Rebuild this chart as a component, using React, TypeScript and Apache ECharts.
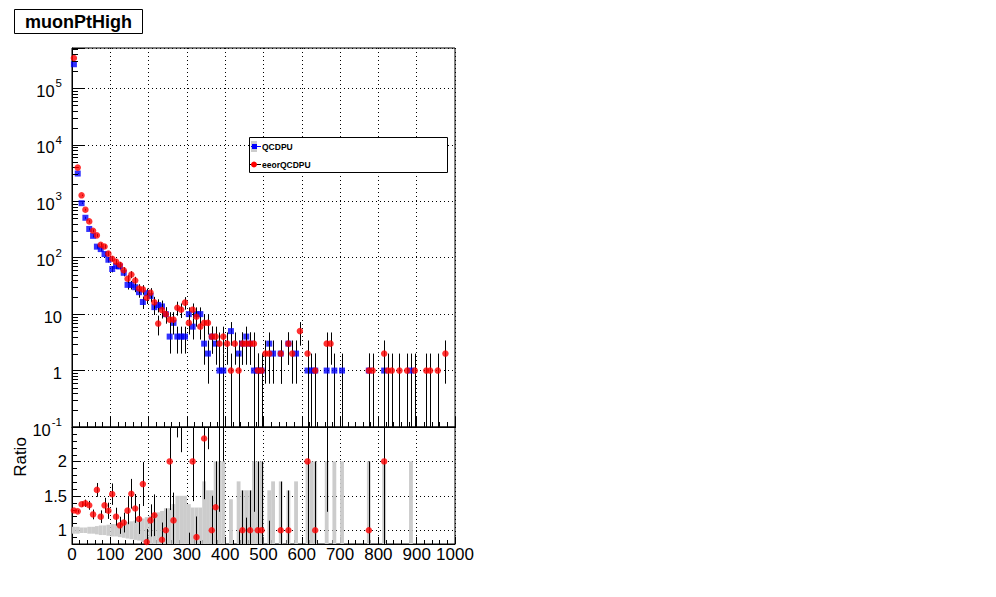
import React, { useEffect, useRef } from "react";
import * as echarts from "echarts";

// ---------------- data ----------------
const binCenters = [
  5, 15, 25, 35, 45, 55, 65, 75, 85, 95,
  105, 115, 125, 135, 145, 155, 165, 175, 185, 195,
  205, 215, 225, 235, 245, 255, 265, 275, 285, 295,
  305, 315, 325, 335, 345, 355, 365, 375, 385, 395,
  405, 415, 425, 435, 445, 455, 465, 475, 485, 495,
  505, 515, 525, 535, 545, 555, 565, 575, 585, 595,
  605, 615, 625, 635, 645, 655, 665, 675, 685, 695,
  705, 715, 725, 735, 745, 755, 765, 775, 785, 795,
  805, 815, 825, 835, 845, 855, 865, 875, 885, 895,
  905, 915, 925, 935, 945, 955, 965, 975, 985, 995,
];

const qcdpu = [
  268000, 3100, 925, 510, 323, 244, 157, 142, 116, 92,
  63, 71, 70, 54, 33, 33, 30, 24.5, 16.4, 23.5,
  21, 13.3, 14.5, 13.7, 10, 4, 7, 4, 4, 4,
  10, 6, 10, 10, 3, 2, 4, 3, 1, 1,
  0, 5, 0, 2, 3, 4, 3, 1, 1, 1,
  0, 3, 2, 0, 2, 0, 3, 0, 2, 0,
  0, 1, 1, 1, 0, 0, 1, 0, 1, 0,
  1, 0, 0, 0, 0, 0, 0, 1, 0, 0,
  0, 1, 0, 0, 0, 0, 0, 0, 1, 0,
  0, 0, 0, 0, 0, 0, 0, 0, 0, 0,
];

const eeorQcdpu = [
  345000, 3950, 1275, 710, 440, 300, 249, 170, 158, 118,
  96, 85, 75, 60, 42.4, 50.5, 39.5, 28.5, 27.4, 19.5,
  24, 16.2, 6.8, 11.8, 10, 8, 8, 13, 12, 16,
  7, 12, 9, 6, 7, 7, 4, 4, 3, 4,
  3, 1, 3, 1, 3, 3, 3, 3, 1, 1,
  2, 2, 0, 0, 2, 0, 3, 2, 0, 5,
  0, 2, 0, 1, 0, 0, 3, 3, 0, 0,
  0, 0, 0, 0, 0, 0, 0, 1, 1, 0,
  0, 2, 1, 1, 0, 1, 0, 1, 0, 1,
  0, 0, 1, 1, 0, 1, 0, 2, 0, 0,
];

// relative half-width of the grey MC uncertainty band in the ratio pad
const mcRelErr = [
  0.05, 0.05, 0.04, 0.04, 0.05, 0.05, 0.06, 0.07, 0.07, 0.08,
  0.09, 0.09, 0.1, 0.11, 0.12, 0.13, 0.14, 0.15, 0.17, 0.19,
  0.21, 0.24, 0.26, 0.28, 0.32, 0.32, 0.38, 0.5, 0.5, 0.5,
  0.38, 0.33, 0.33, 0.33, 0.71, 0.58, 0.58, 1, 1, 1,
  0, 0.45, 0, 0.71, 0.58, 0.58, 0.58, 1, 1, 1,
  0, 0.58, 0.71, 0, 0.71, 0, 0.58, 0, 0.71, 0,
  0, 1, 1, 1, 0, 0, 1, 0, 1, 0,
  1, 0, 0, 0, 0, 0, 0, 1, 0, 0,
  0, 1, 0, 0, 0, 0, 0, 0, 1, 0,
  0, 0, 0, 0, 0, 0, 0, 0, 0, 0,
];

const xTickLabels = ["0", "100", "200", "300", "400", "500", "600", "700", "800", "900", "1000"];
const ratioTickLabels = ["1", "1.5", "2"];
const logMinorTicks = [
  0.2, 0.3, 0.4, 0.5, 0.6, 0.7, 0.8, 0.9,
  2, 3, 4, 5, 6, 7, 8, 9,
  20, 30, 40, 50, 60, 70, 80, 90,
  200, 300, 400, 500, 600, 700, 800, 900,
  2000, 3000, 4000, 5000, 6000, 7000, 8000, 9000,
  20000, 30000, 40000, 50000, 60000, 70000, 80000, 90000,
  200000, 300000, 400000, 500000,
];
const ratioMinorTicks = [0.9, 1.1, 1.2, 1.3, 1.4, 1.6, 1.7, 1.8, 1.9, 2.1, 2.2, 2.3, 2.4];

const seriesNames = ["QCDPU", "eeorQCDPU"];
const titleText = "muonPtHigh";
const ratioTitle = "Ratio";

// ---------------- styling ----------------
const FONT = "'Liberation Sans', Arial, Helvetica, sans-serif";
const BIN_W = 10;
const Y_MIN = 0.1;
const Y_MAX = 520000;
const R_MIN = 0.8;
const R_MAX = 2.5;
const GRID_DOT = { color: "#000", type: [1, 3] as number[], width: 1 };

function vLine(color: string) {
  return (params: any, api: any) => {
    const x = api.value(0);
    const lo = api.value(1);
    const hi = api.value(2);
    const p1 = api.coord([x, hi]);
    const p2 = api.coord([x, lo]);
    const xx = Math.round(p1[0]) + 0.5;
    return {
      type: "line",
      shape: { x1: xx, y1: p1[1], x2: xx, y2: p2[1] },
      style: { stroke: color, lineWidth: 1 },
    };
  };
}

function tickLine(len: number) {
  return (params: any, api: any) => {
    const p = api.coord([api.value(0), api.value(1)]);
    const yy = Math.round(p[1]) + 0.5;
    return {
      type: "line",
      shape: { x1: p[0], y1: yy, x2: p[0] + len, y2: yy },
      style: { stroke: "#000", lineWidth: 1 },
    };
  };
}

function buildOption() {
  const blueErr: number[][] = [];
  const bluePts: number[][] = [];
  const redErr: number[][] = [];
  const redPts: number[][] = [];
  const band: number[][] = [];
  const ratioErr: number[][] = [];
  const ratioPts: number[][] = [];

  binCenters.forEach((x, i) => {
    const b = qcdpu[i];
    const r = eeorQcdpu[i];
    if (b > 0) {
      const e = Math.sqrt(b);
      bluePts.push([x, b]);
      blueErr.push([x, Math.max(b - e, Y_MIN), b + e]);
    }
    if (r > 0) {
      const e = Math.sqrt(r);
      redPts.push([x, r]);
      redErr.push([x, Math.max(r - e, Y_MIN), r + e]);
    }
    if (mcRelErr[i] > 0) band.push([x, 1 - mcRelErr[i], 1 + mcRelErr[i]]);
    if (b > 0 && r > 0) {
      const ratio = r / b;
      const e = Math.sqrt(r) / b;
      ratioErr.push([x, ratio - e, ratio + e]);
      if (ratio >= R_MIN && ratio <= R_MAX) ratioPts.push([x, ratio]);
    }
  });

  const axisLine = { show: true, onZero: false, lineStyle: { color: "#000", width: 1 } };

  return {
    animation: false,
    backgroundColor: "#fff",
    grid: [
      { left: 72, top: 48, width: 383, height: 379, show: true, borderColor: "#000", borderWidth: 1, backgroundColor: "transparent" },
      { left: 72, top: 427, width: 383, height: 117, show: true, borderColor: "#000", borderWidth: 1, backgroundColor: "transparent" },
    ],
    xAxis: [
      {
        gridIndex: 0, type: "value", min: 0, max: 1000, interval: 100,
        axisLine,
        axisTick: { show: true, inside: true, length: 11, lineStyle: { color: "#000" } },
        minorTick: { show: true, splitNumber: 5, length: 5, lineStyle: { color: "#000" } },
        axisLabel: { show: false },
        splitLine: { show: true, lineStyle: GRID_DOT },
      },
      {
        gridIndex: 1, type: "value", min: 0, max: 1000, interval: 100,
        axisLine,
        axisTick: { show: true, inside: true, length: 7, lineStyle: { color: "#000" } },
        minorTick: { show: true, splitNumber: 5, length: 4, lineStyle: { color: "#000" } },
        axisLabel: {
          show: true, color: "#000", fontSize: 17, fontFamily: FONT, margin: 2,
          formatter: (v: number) => {
            const s = String(Math.round(v));
            return xTickLabels.includes(s) ? s : "";
          },
        },
        splitLine: { show: true, lineStyle: GRID_DOT },
      },
    ],
    yAxis: [
      {
        gridIndex: 0, type: "log", logBase: 10, min: Y_MIN, max: Y_MAX,
        axisLine,
        axisTick: { show: true, inside: true, length: 12, lineStyle: { color: "#000" } },
        minorTick: { show: false },
        axisLabel: {
          show: true, color: "#000", fontFamily: FONT, margin: 10,
          formatter: (v: number) => {
            const lg = Math.log10(v);
            const n = Math.round(lg);
            if (Math.abs(lg - n) > 1e-6) return "";
            if (n === 0) return "{b|1}";
            if (n === 1) return "{b|10}";
            return `{b|10}{s|${n}}`;
          },
          rich: {
            b: { fontSize: 16.5, fontFamily: FONT, color: "#000", lineHeight: 22, verticalAlign: "bottom" },
            s: { fontSize: 11.5, fontFamily: FONT, color: "#000", lineHeight: 22, verticalAlign: "top", padding: [0, 0, 0, 1] },
          },
        },
        splitLine: { show: true, lineStyle: GRID_DOT },
      },
      {
        gridIndex: 1, type: "value", min: R_MIN, max: R_MAX, splitNumber: 3,
        axisLine,
        axisTick: { show: true, inside: true, length: 9, lineStyle: { color: "#000" } },
        minorTick: { show: false },
        axisLabel: {
          show: true, color: "#000", fontSize: 16.5, fontFamily: FONT, margin: 5,
          formatter: (v: number) => {
            const s = String(Math.round(v * 100) / 100);
            return ratioTickLabels.includes(s) ? s : "";
          },
        },
        splitLine: { show: true, lineStyle: GRID_DOT },
      },
    ],
    series: [
      {
        type: "custom", name: "logMinor", xAxisIndex: 0, yAxisIndex: 0, silent: true,
        data: logMinorTicks.map((v) => [0, v]), renderItem: tickLine(6), z: 5,
      },
      {
        type: "custom", name: "ratioMinor", xAxisIndex: 1, yAxisIndex: 1, silent: true,
        data: ratioMinorTicks.map((v) => [0, v]), renderItem: tickLine(5), z: 5,
      },
      {
        type: "custom", name: seriesNames[0] + " err", xAxisIndex: 0, yAxisIndex: 0, silent: true, clip: true,
        data: blueErr, renderItem: vLine("#000"), z: 2,
      },
      {
        type: "scatter", name: seriesNames[0], xAxisIndex: 0, yAxisIndex: 0, silent: true,
        data: bluePts, symbol: "rect", symbolSize: 6, itemStyle: { color: "#0000ff" }, z: 3,
      },
      {
        type: "custom", name: seriesNames[1] + " err", xAxisIndex: 0, yAxisIndex: 0, silent: true, clip: true,
        data: redErr, renderItem: vLine("#000"), z: 4,
      },
      {
        type: "scatter", name: seriesNames[1], xAxisIndex: 0, yAxisIndex: 0, silent: true,
        data: redPts, symbol: "circle", symbolSize: 6.5, itemStyle: { color: "#ff0000" }, z: 5,
      },
      {
        type: "custom", name: "band", xAxisIndex: 1, yAxisIndex: 1, silent: true, clip: true,
        data: band, z: 1,
        renderItem: (params: any, api: any) => {
          const x = api.value(0);
          const a = api.coord([x - BIN_W / 2, api.value(2)]);
          const b = api.coord([x + BIN_W / 2, api.value(1)]);
          return {
            type: "rect",
            shape: { x: a[0], y: a[1], width: b[0] - a[0], height: b[1] - a[1] },
            style: { fill: "#cccccc" },
          };
        },
      },
      {
        type: "custom", name: "ratio err", xAxisIndex: 1, yAxisIndex: 1, silent: true, clip: true,
        data: ratioErr, renderItem: vLine("#000"), z: 4,
      },
      {
        type: "scatter", name: "ratio", xAxisIndex: 1, yAxisIndex: 1, silent: true,
        data: ratioPts, symbol: "circle", symbolSize: 6.5, itemStyle: { color: "#ff0000" }, z: 5,
      },
    ],
    graphic: [
      {
        type: "rect", z: 100,
        shape: { x: 14.5, y: 9.5, width: 128, height: 24 },
        style: { fill: "#fff", stroke: "#000", lineWidth: 1 },
      },
      {
        type: "text", z: 101, x: 78.5, y: 21.5,
        style: { text: titleText, font: `bold 18px ${FONT}`, fill: "#000", align: "center", verticalAlign: "middle" },
      },
      {
        type: "rect", z: 100,
        shape: { x: 249.5, y: 137.5, width: 198, height: 35 },
        style: { fill: "#fff", stroke: "#000", lineWidth: 1 },
      },
      { type: "rect", z: 101, shape: { x: 251, y: 141, width: 6, height: 11 }, style: { fill: "#cccccc" } },
      { type: "line", z: 102, shape: { x1: 251, y1: 146.5, x2: 261, y2: 146.5 }, style: { stroke: "#0000ff", lineWidth: 1 } },
      { type: "rect", z: 103, shape: { x: 252, y: 144, width: 5, height: 5 }, style: { fill: "#0000ff" } },
      {
        type: "text", z: 101, x: 262, y: 147,
        style: { text: seriesNames[0], font: `bold 8.5px ${FONT}`, fill: "#000", align: "left", verticalAlign: "middle" },
      },
      { type: "line", z: 102, shape: { x1: 250, y1: 164.5, x2: 261, y2: 164.5 }, style: { stroke: "#000", lineWidth: 1 } },
      { type: "circle", z: 103, shape: { cx: 254, cy: 164.5, r: 3 }, style: { fill: "#ff0000" } },
      {
        type: "text", z: 101, x: 262, y: 164.5,
        style: { text: seriesNames[1], font: `bold 8.5px ${FONT}`, fill: "#000", align: "left", verticalAlign: "middle" },
      },
      {
        type: "text", z: 101, x: 20, y: 457, rotation: Math.PI / 2,
        style: { text: ratioTitle, font: `17px ${FONT}`, fill: "#000", align: "center", verticalAlign: "middle" },
      },
    ],
  };
}

export default function App() {
  const ref = useRef<HTMLDivElement>(null);
  useEffect(() => {
    if (!ref.current) return;
    const chart = echarts.init(ref.current, null, { renderer: "svg" });
    chart.setOption(buildOption() as any);
    return () => chart.dispose();
  }, []);
  return (
    <div
      ref={ref}
      style={{ position: "fixed", left: 0, top: 0, width: 996, height: 597, background: "#fff" }}
    />
  );
}
